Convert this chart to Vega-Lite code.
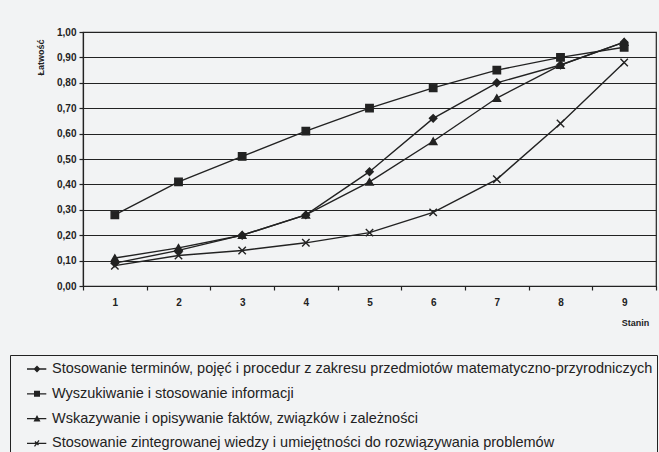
{
  "$schema": "https://vega.github.io/schema/vega-lite/v6.json",
  "width": 573,
  "height": 254,
  "autosize": {"type": "none"},
  "padding": {"left": 83, "top": 32, "right": 3, "bottom": 166},
  "background": "#f2f3f4",
  "config": {
    "font": "Liberation Sans",
    "view": {"stroke": "#222", "strokeWidth": 1.2},
    "axis": {
      "domainColor": "#222", "domainWidth": 1.2, "tickColor": "#222", "tickWidth": 1.2,
      "gridColor": "#222", "gridOpacity": 1, "gridWidth": 1,
      "labelColor": "#222", "labelFont": "Liberation Sans", "labelFontWeight": "bold", "labelFontSize": 10,
      "titleColor": "#222", "titleFont": "Liberation Sans", "titleFontWeight": "bold", "titleFontSize": 10
    }
  },
  "datasets": {
    "rows": [
      {"stanin": "1", "seria": "Stosowanie terminów, pojęć i procedur z zakresu przedmiotów matematyczno-przyrodniczych", "latwosc": 0.09},
      {"stanin": "2", "seria": "Stosowanie terminów, pojęć i procedur z zakresu przedmiotów matematyczno-przyrodniczych", "latwosc": 0.14},
      {"stanin": "3", "seria": "Stosowanie terminów, pojęć i procedur z zakresu przedmiotów matematyczno-przyrodniczych", "latwosc": 0.20},
      {"stanin": "4", "seria": "Stosowanie terminów, pojęć i procedur z zakresu przedmiotów matematyczno-przyrodniczych", "latwosc": 0.28},
      {"stanin": "5", "seria": "Stosowanie terminów, pojęć i procedur z zakresu przedmiotów matematyczno-przyrodniczych", "latwosc": 0.45},
      {"stanin": "6", "seria": "Stosowanie terminów, pojęć i procedur z zakresu przedmiotów matematyczno-przyrodniczych", "latwosc": 0.66},
      {"stanin": "7", "seria": "Stosowanie terminów, pojęć i procedur z zakresu przedmiotów matematyczno-przyrodniczych", "latwosc": 0.80},
      {"stanin": "8", "seria": "Stosowanie terminów, pojęć i procedur z zakresu przedmiotów matematyczno-przyrodniczych", "latwosc": 0.87},
      {"stanin": "9", "seria": "Stosowanie terminów, pojęć i procedur z zakresu przedmiotów matematyczno-przyrodniczych", "latwosc": 0.96},
      {"stanin": "1", "seria": "Wyszukiwanie i stosowanie informacji", "latwosc": 0.28},
      {"stanin": "2", "seria": "Wyszukiwanie i stosowanie informacji", "latwosc": 0.41},
      {"stanin": "3", "seria": "Wyszukiwanie i stosowanie informacji", "latwosc": 0.51},
      {"stanin": "4", "seria": "Wyszukiwanie i stosowanie informacji", "latwosc": 0.61},
      {"stanin": "5", "seria": "Wyszukiwanie i stosowanie informacji", "latwosc": 0.70},
      {"stanin": "6", "seria": "Wyszukiwanie i stosowanie informacji", "latwosc": 0.78},
      {"stanin": "7", "seria": "Wyszukiwanie i stosowanie informacji", "latwosc": 0.85},
      {"stanin": "8", "seria": "Wyszukiwanie i stosowanie informacji", "latwosc": 0.90},
      {"stanin": "9", "seria": "Wyszukiwanie i stosowanie informacji", "latwosc": 0.94},
      {"stanin": "1", "seria": "Wskazywanie i opisywanie faktów, związków i zależności", "latwosc": 0.11},
      {"stanin": "2", "seria": "Wskazywanie i opisywanie faktów, związków i zależności", "latwosc": 0.15},
      {"stanin": "3", "seria": "Wskazywanie i opisywanie faktów, związków i zależności", "latwosc": 0.20},
      {"stanin": "4", "seria": "Wskazywanie i opisywanie faktów, związków i zależności", "latwosc": 0.28},
      {"stanin": "5", "seria": "Wskazywanie i opisywanie faktów, związków i zależności", "latwosc": 0.41},
      {"stanin": "6", "seria": "Wskazywanie i opisywanie faktów, związków i zależności", "latwosc": 0.57},
      {"stanin": "7", "seria": "Wskazywanie i opisywanie faktów, związków i zależności", "latwosc": 0.74},
      {"stanin": "8", "seria": "Wskazywanie i opisywanie faktów, związków i zależności", "latwosc": 0.87},
      {"stanin": "9", "seria": "Wskazywanie i opisywanie faktów, związków i zależności", "latwosc": 0.96},
      {"stanin": "1", "seria": "Stosowanie zintegrowanej wiedzy i umiejętności do rozwiązywania problemów", "latwosc": 0.08},
      {"stanin": "2", "seria": "Stosowanie zintegrowanej wiedzy i umiejętności do rozwiązywania problemów", "latwosc": 0.12},
      {"stanin": "3", "seria": "Stosowanie zintegrowanej wiedzy i umiejętności do rozwiązywania problemów", "latwosc": 0.14},
      {"stanin": "4", "seria": "Stosowanie zintegrowanej wiedzy i umiejętności do rozwiązywania problemów", "latwosc": 0.17},
      {"stanin": "5", "seria": "Stosowanie zintegrowanej wiedzy i umiejętności do rozwiązywania problemów", "latwosc": 0.21},
      {"stanin": "6", "seria": "Stosowanie zintegrowanej wiedzy i umiejętności do rozwiązywania problemów", "latwosc": 0.29},
      {"stanin": "7", "seria": "Stosowanie zintegrowanej wiedzy i umiejętności do rozwiązywania problemów", "latwosc": 0.42},
      {"stanin": "8", "seria": "Stosowanie zintegrowanej wiedzy i umiejętności do rozwiązywania problemów", "latwosc": 0.64},
      {"stanin": "9", "seria": "Stosowanie zintegrowanej wiedzy i umiejętności do rozwiązywania problemów", "latwosc": 0.88}
    ]
  },
  "data": {"name": "rows"},
  "encoding": {
    "x": {
      "field": "stanin", "type": "ordinal",
      "scale": {"paddingInner": 0, "paddingOuter": 0},
      "axis": {
        "labelAngle": 0, "tickBand": "extent", "tickSize": 4, "labelPadding": 7, "grid": false,
        "title": "Stanin", "titleX": 552, "titleY": 36, "titleAlign": "center", "titleBaseline": "middle", "titleFontSize": 9
      }
    },
    "y": {
      "field": "latwosc", "type": "quantitative",
      "scale": {"domain": [0, 1], "nice": false, "zero": true},
      "axis": {
        "values": [0, 0.1, 0.2, 0.3, 0.4, 0.5, 0.6, 0.7, 0.8, 0.9, 1],
        "labelExpr": "replace(format(datum.value, '.2f'), '.', ',')",
        "grid": true, "tickSize": 4, "labelPadding": 3,
        "title": "Łatwość", "titleX": -43, "titleY": 25, "titleAngle": -90,
        "titleAlign": "center", "titleBaseline": "middle", "titleFontSize": 9
      }
    }
  },
  "layer": [
    {
      "mark": {"type": "line", "color": "#222", "strokeWidth": 1.4},
      "encoding": {"detail": {"field": "seria"}}
    },
    {
      "mark": {"type": "point", "filled": true, "fill": "#222", "stroke": "#222", "strokeWidth": 1.4, "size": 55, "opacity": 1},
      "encoding": {
        "shape": {
          "field": "seria", "type": "nominal",
          "scale": {
            "domain": [
              "Stosowanie terminów, pojęć i procedur z zakresu przedmiotów matematyczno-przyrodniczych",
              "Wyszukiwanie i stosowanie informacji",
              "Wskazywanie i opisywanie faktów, związków i zależności",
              "Stosowanie zintegrowanej wiedzy i umiejętności do rozwiązywania problemów"
            ],
            "range": ["diamond", "square", "triangle-up", "M-1,-1L1,1M-1,1L1,-1"]
          },
          "legend": null
        }
      }
    },
    {
      "mark": {"type": "point", "filled": true, "fill": "#222", "opacity": 0},
      "encoding": {
        "shape": {
          "field": "seria", "type": "nominal",
          "scale": {
            "domain": [
              "Stosowanie terminów, pojęć i procedur z zakresu przedmiotów matematyczno-przyrodniczych",
              "Wyszukiwanie i stosowanie informacji",
              "Wskazywanie i opisywanie faktów, związków i zależności",
              "Stosowanie zintegrowanej wiedzy i umiejętności do rozwiązywania problemów"
            ],
            "range": [
              "M0.3,-0.065L2.23,-0.065L2.23,0.065L0.3,0.065ZM0.95,0L1.3,-0.35L1.65,0L1.3,0.35Z",
              "M0.3,-0.065L2.23,-0.065L2.23,0.065L0.3,0.065ZM1,-0.3L1.6,-0.3L1.6,0.3L1,0.3Z",
              "M0.3,-0.065L2.23,-0.065L2.23,0.065L0.3,0.065ZM0.95,0.3L1.3,-0.35L1.65,0.3Z",
              "M0.3,-0.065L2.23,-0.065L2.23,0.065L0.3,0.065ZM1,0.27L1.45,-0.33L1.55,-0.27L1.1,0.33ZM1.15,-0.25L1.5,0.1L1.4,0.2L1.05,-0.15Z"
            ]
          },
          "legend": {
            "orient": "none", "legendX": -73, "legendY": 323, "direction": "vertical",
            "title": null, "strokeColor": "#222", "padding": 4,
            "symbolSize": 400, "symbolFillColor": "#222", "symbolStrokeColor": "#222",
            "symbolStrokeWidth": 0, "symbolOpacity": 1,
            "labelFont": "Liberation Sans", "labelFontSize": 14.5, "labelColor": "#222",
            "labelLimit": 1000, "labelOffset": 18, "rowPadding": 7.8
          }
        }
      }
    }
  ],
  "resolve": {"scale": {"shape": "independent"}}
}
